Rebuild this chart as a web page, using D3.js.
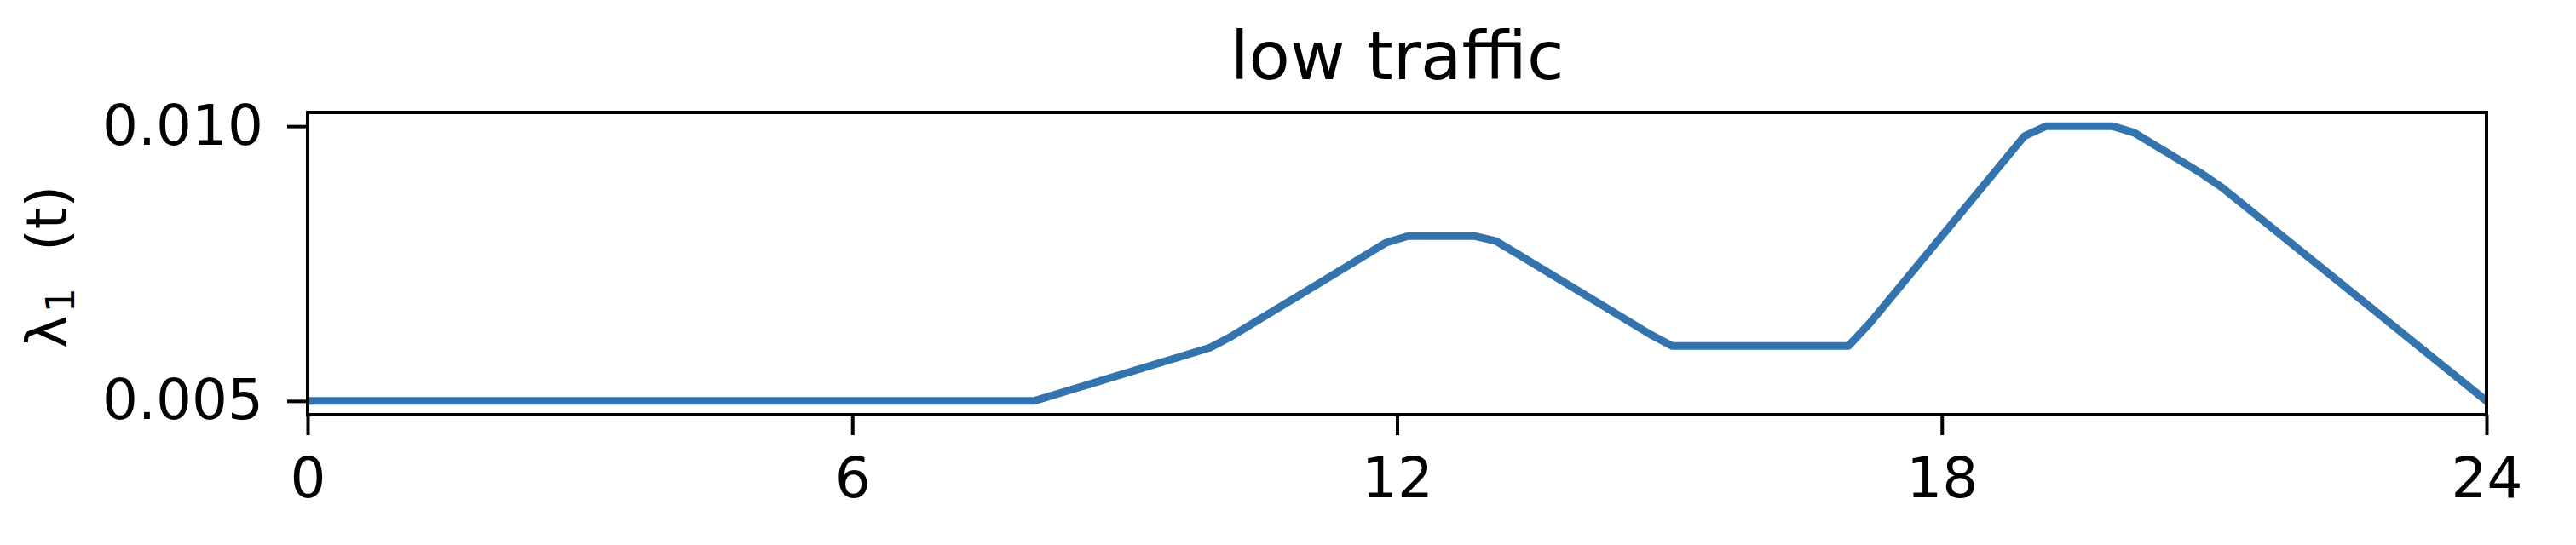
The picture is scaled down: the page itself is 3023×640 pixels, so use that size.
<!DOCTYPE html>
<meta charset="utf-8"/>
<style>
  body { margin: 0; background: #fff; }
  text { font-family: "DejaVu Sans", sans-serif; fill: #000; }
</style>
<svg width="3023" height="640"></svg>
<script src="https://d3js.org/d3.v7.min.js"></script>
<script>

  // hours where the curve bends, and the rate read at each one
  var hours = [0, 8, 9.94, 10.18, 11.88, 12.12, 12.85, 13.09, 14.79, 15.03,
               16.97, 17.21, 18.91, 19.15, 19.88, 20.12, 20.85, 21.09, 24];
  var rates = [0.005, 0.005, 0.00597, 0.00618, 0.00788, 0.008, 0.008, 0.00791, 0.00621, 0.006,
               0.006, 0.00642, 0.00982, 0.010, 0.010, 0.00988, 0.00915, 0.00888, 0.005];
  var xTicks = [0, 6, 12, 18, 24];
  var yTicks = [0.005, 0.010];
  var title = "low traffic";

  var svg = d3.select("svg"),
    width = +svg.attr("width"),
    height = +svg.attr("height");

  svg.append("rect").attr("width", width).attr("height", height).attr("fill", "#fff");

  var margin = {left: 361, right: 3023 - 2918, top: 132, bottom: 640 - 487};
  var iw = width - margin.left - margin.right,
    ih = height - margin.top - margin.bottom;

  // matplotlib-style 5% padding on y
  var x = d3.scaleLinear().domain([0, 24]).range([0, iw]);
  var y = d3.scaleLinear().domain([0.00475, 0.01025]).range([ih, 0]);

  var g = svg.append("g").attr("transform", "translate(" + margin.left + "," + margin.top + ")");

  g.append("clipPath").attr("id", "clip")
    .append("rect").attr("width", iw).attr("height", ih);

  var line = d3.line()
    .x(function (d, i) { return x(hours[i]); })
    .y(function (d) { return y(d); });

  g.append("path")
    .datum(rates)
    .attr("clip-path", "url(#clip)")
    .attr("fill", "none")
    .attr("stroke", "#3474ae")
    .attr("stroke-width", 9)
    .attr("stroke-linejoin", "round")
    .attr("stroke-linecap", "square")
    .attr("d", line);

  var xAxis = g.append("g")
    .attr("transform", "translate(0," + ih + ")")
    .call(d3.axisBottom(x).tickValues(xTicks).tickSize(24).tickPadding(26).tickFormat(d3.format("d")));

  var yAxis = g.append("g")
    .call(d3.axisLeft(y).tickValues(yTicks).tickSize(24).tickPadding(28).tickFormat(d3.format(".3f")));

  [xAxis, yAxis].forEach(function (a) {
    a.select(".domain").remove();
    a.selectAll(".tick line").attr("stroke", "#000").attr("stroke-width", 4);
    a.selectAll(".tick text").attr("font-family", "DejaVu Sans").attr("font-size", 66).attr("fill", "#000");
  });

  // frame (spines)
  g.append("rect")
    .attr("width", iw).attr("height", ih)
    .attr("fill", "none").attr("stroke", "#000").attr("stroke-width", 4);

  svg.append("text")
    .attr("x", margin.left + iw / 2)
    .attr("y", 93)
    .attr("text-anchor", "middle")
    .attr("font-size", 79)
    .text(title);

  var ylab = svg.append("text")
    .attr("transform", "translate(78," + (margin.top + ih / 2 + 4) + ") rotate(-90)")
    .attr("text-anchor", "middle")
    .attr("font-size", 66)
    .attr("xml:space", "preserve");
  ylab.append("tspan").text("λ");
  ylab.append("tspan").attr("font-size", 46).attr("dy", 9).attr("dx", 3).text("1");
  ylab.append("tspan").attr("dy", -9).attr("dx", 22).text(" (t)");

</script>
